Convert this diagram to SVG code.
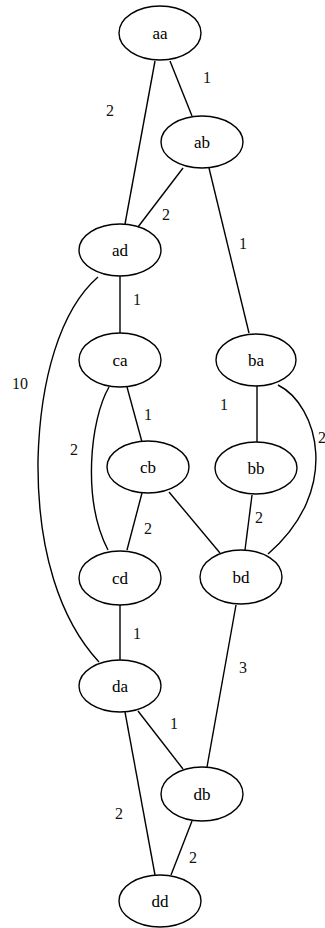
<svg xmlns="http://www.w3.org/2000/svg" width="325" height="928" viewBox="0 0 325 928">
<style>
.n ellipse{fill:#fff;stroke:#000;stroke-width:1.4}
.n text{font-family:"Liberation Serif","Times New Roman",serif;font-size:17px;text-anchor:middle;fill:#000}
#edges path{fill:none;stroke:#000;stroke-width:1.4}
#labels text{font-family:"Liberation Serif","Times New Roman",serif;font-size:16px;text-anchor:middle;fill:#111}
</style>
<rect width="325" height="928" fill="#fff"/>
<g id="edges">
<path d="M170,61 L192,116"/>
<path d="M155,61 L125,224"/>
<path d="M183,168 L138,227"/>
<path d="M209,168 L249,333"/>
<path d="M120,276 L120,333"/>
<path d="M98,277 C60,310 40,380 38,460 C37,550 60,620 99,662"/>
<path d="M127,387 L142,442"/>
<path d="M109,387 C90,420 82,500 108,550"/>
<path d="M257,386 L257,442"/>
<path d="M278,385 C318,405 342,490 268,554"/>
<path d="M142,493 L127,550"/>
<path d="M169,492 L220,553"/>
<path d="M252,495 L245,550"/>
<path d="M120,605 L120,660"/>
<path d="M236,605 L207,767"/>
<path d="M138,711 L183,769"/>
<path d="M125,712 L155,875"/>
<path d="M192,821 L171,875"/>
</g>
<g id="labels">
<text x="207" y="83">1</text>
<text x="110" y="116">2</text>
<text x="166" y="220">2</text>
<text x="243" y="249">1</text>
<text x="137" y="305">1</text>
<text x="20" y="389">10</text>
<text x="148" y="420">1</text>
<text x="74" y="455">2</text>
<text x="224" y="410">1</text>
<text x="318" y="443" style="text-anchor:start">2</text>
<text x="148" y="534">2</text>
<text x="259" y="523">2</text>
<text x="137" y="639">1</text>
<text x="243" y="673">3</text>
<text x="174" y="729">1</text>
<text x="119" y="819">2</text>
<text x="193" y="863">2</text>
</g>
<g id="aa" class="n"><ellipse cx="160" cy="33" rx="41" ry="27"/><text x="160" y="39">aa</text></g>
<g id="ab" class="n"><ellipse cx="202" cy="142" rx="41" ry="26"/><text x="202" y="148">ab</text></g>
<g id="ad" class="n"><ellipse cx="120" cy="250" rx="41" ry="26"/><text x="120" y="256">ad</text></g>
<g id="ca" class="n"><ellipse cx="120" cy="360" rx="41" ry="27"/><text x="120" y="366">ca</text></g>
<g id="ba" class="n"><ellipse cx="256" cy="360" rx="40" ry="26"/><text x="256" y="366">ba</text></g>
<g id="cb" class="n"><ellipse cx="148" cy="467" rx="41" ry="26"/><text x="148" y="473">cb</text></g>
<g id="bb" class="n"><ellipse cx="256" cy="468" rx="41" ry="26"/><text x="256" y="474">bb</text></g>
<g id="cd" class="n"><ellipse cx="120" cy="578" rx="41" ry="27"/><text x="120" y="584">cd</text></g>
<g id="bd" class="n"><ellipse cx="241" cy="577" rx="41" ry="27"/><text x="241" y="583">bd</text></g>
<g id="da" class="n"><ellipse cx="120" cy="686" rx="41" ry="26"/><text x="120" y="692">da</text></g>
<g id="db" class="n"><ellipse cx="202" cy="794" rx="41" ry="27"/><text x="202" y="800">db</text></g>
<g id="dd" class="n"><ellipse cx="160" cy="901" rx="41" ry="26"/><text x="160" y="907">dd</text></g>
</svg>
